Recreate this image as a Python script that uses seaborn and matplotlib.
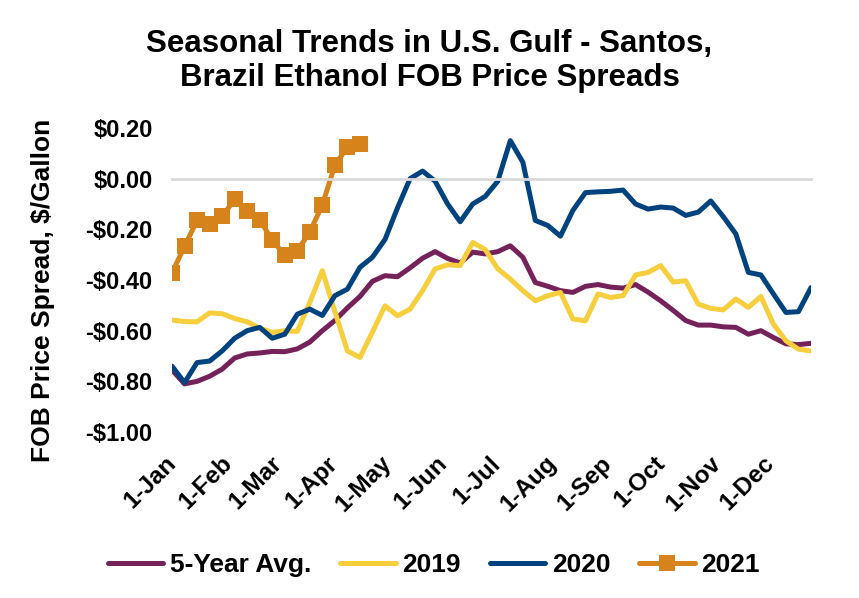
import numpy as np
import pandas as pd
import matplotlib
matplotlib.use("Agg")
import matplotlib.pyplot as plt
import matplotlib.dates as mdates
import matplotlib.transforms as mtransforms
from matplotlib.ticker import FuncFormatter
import seaborn as sns

# ---------------- data ----------------
start_date = "2021-01-01"
n_weeks = 52
series_names = ["5-Year Avg.", "2019", "2020", "2021"]
avg5 = [-0.755, -0.81, -0.80, -0.78, -0.752, -0.708, -0.692, -0.688, -0.682, -0.683,
        -0.672, -0.645, -0.60, -0.56, -0.51, -0.465, -0.405, -0.383, -0.387, -0.352,
        -0.314, -0.288, -0.315, -0.333, -0.29, -0.297, -0.288, -0.265, -0.31, -0.41,
        -0.425, -0.442, -0.449, -0.425, -0.418, -0.428, -0.432, -0.418, -0.448, -0.482,
        -0.52, -0.56, -0.578, -0.578, -0.585, -0.587, -0.614, -0.60, -0.627, -0.652,
        -0.655, -0.65]
y2019 = [-0.558, -0.564, -0.565, -0.53, -0.533, -0.552, -0.565, -0.59, -0.607, -0.60,
         -0.603, -0.488, -0.363, -0.525, -0.68, -0.706, -0.605, -0.502, -0.541, -0.515,
         -0.442, -0.356, -0.34, -0.343, -0.252, -0.28, -0.356, -0.396, -0.442, -0.482,
         -0.462, -0.449, -0.554, -0.561, -0.455, -0.469, -0.462, -0.38, -0.37, -0.343,
         -0.408, -0.403, -0.495, -0.512, -0.518, -0.475, -0.508, -0.465, -0.574, -0.64,
         -0.673, -0.68]
y2020 = [-0.74, -0.805, -0.726, -0.72, -0.68, -0.63, -0.60, -0.587, -0.63, -0.614,
         -0.535, -0.515, -0.54, -0.462, -0.436, -0.35, -0.31, -0.24, -0.115, 0.0,
         0.03, -0.01, -0.10, -0.17, -0.10, -0.07, -0.01, 0.15, 0.065, -0.165,
         -0.185, -0.227, -0.125, -0.055, -0.052, -0.05, -0.045, -0.10, -0.12, -0.112,
         -0.116, -0.145, -0.132, -0.088, -0.15, -0.218, -0.37, -0.38, -0.455, -0.528,
         -0.525, -0.43]
y2021 = [-0.372, -0.267, -0.165, -0.178, -0.149, -0.082, -0.128, -0.162, -0.244, -0.301,
         -0.284, -0.211, -0.103, 0.053, 0.125, 0.135]
month_labels = ["1-Jan", "1-Feb", "1-Mar", "1-Apr", "1-May", "1-Jun",
                "1-Jul", "1-Aug", "1-Sep", "1-Oct", "1-Nov", "1-Dec"]
y_ticks = [0.20, 0.00, -0.20, -0.40, -0.60, -0.80, -1.00]

title = "Seasonal Trends in U.S. Gulf - Santos,\nBrazil Ethanol FOB Price Spreads"
y_label = "FOB Price Spread, $/Gallon"
colors = ["#75215A", "#F7CE3C", "#01427F", "#D5831A"]

dates = pd.date_range(start_date, periods=n_weeks, freq="7D")
month_starts = pd.date_range(start_date, periods=len(month_labels), freq="MS")

frames = []
for name, vals in zip(series_names, [avg5, y2019, y2020, y2021]):
    frames.append(pd.DataFrame({"date": dates[:len(vals)], "value": vals, "series": name}))
df = pd.concat(frames, ignore_index=True)

# ---------------- style ----------------
sns.set_theme(style="white")
plt.rcParams["font.family"] = ["Liberation Sans", "DejaVu Sans"]
plt.rcParams["font.weight"] = "bold"
plt.rcParams["text.color"] = "black"
plt.rcParams["axes.labelcolor"] = "black"
plt.rcParams["xtick.labelcolor"] = "black"
plt.rcParams["ytick.labelcolor"] = "black"

fig = plt.figure(figsize=(8.59, 5.98), dpi=100)
ax = fig.add_axes([172 / 859, 1 - 432 / 598, (811 - 172) / 859, (432 - 128) / 598])

for name, col in zip(series_names, colors):
    sub = df[df["series"] == name]
    kw = dict(marker="s", markersize=12, markeredgewidth=0) if name == "2021" else {}
    sns.lineplot(data=sub, x="date", y="value", ax=ax, color=col, linewidth=3.6,
                 label=name, solid_joinstyle="round", solid_capstyle="round", **kw)

ax.set_ylim(min(y_ticks), max(y_ticks))
ax.set_xlim(dates[0], dates[-1])
ax.set_yticks(y_ticks)
ax.yaxis.set_major_formatter(FuncFormatter(
    lambda v, p: ("-$%.2f" % abs(v)) if v < -1e-9 else ("$%.2f" % abs(v))))
ax.tick_params(axis="y", length=0, pad=14, labelsize=17, labelcolor="black")
for t in ax.get_yticklabels():
    t.set_fontweight("bold")

for s in ["left", "right", "top"]:
    ax.spines[s].set_visible(False)
ax.spines["bottom"].set_position(("data", 0))
ax.spines["bottom"].set_color("#D9D9D9")
ax.spines["bottom"].set_linewidth(2)
ax.set_xticks(month_starts)
ax.tick_params(axis="x", direction="out", length=8, width=2, color="#D9D9D9",
               labelbottom=False)

sec = ax.secondary_xaxis("bottom")
sec.set_xticks(mdates.date2num(month_starts))
sec.set_xticklabels(month_labels)
sec.spines["bottom"].set_visible(False)
sec.tick_params(axis="x", length=0, pad=20, labelsize=17.5, labelcolor="black")
offset = mtransforms.ScaledTranslation(1 / 100, 0, fig.dpi_scale_trans)
for t in sec.get_xticklabels():
    t.set_rotation(45)
    t.set_ha("right")
    t.set_va("center")
    t.set_rotation_mode("anchor")
    t.set_fontweight("bold")
    t.set_color("black")
    t.set_transform(t.get_transform() + offset)

ax.set_xlabel("")
ax.set_ylabel(y_label, fontsize=19, fontweight="bold", color="black")
ax.yaxis.set_label_coords(-0.183, 0.467)

fig.text(0.5, 1 - 29 / 598, title, ha="center", va="top", fontsize=22.5,
         fontweight="bold", linespacing=1.18, color="black")

handles, labels = ax.get_legend_handles_labels()
if ax.legend_:
    ax.legend_.remove()
leg = fig.legend(handles, labels, loc="center", bbox_to_anchor=(0.505, 1 - 565 / 598),
                 ncol=4, frameon=False, handlelength=2.1, handletextpad=0.25,
                 columnspacing=1.1, prop={"weight": "bold", "size": 19})
for t in leg.get_texts():
    t.set_color("black")

fig.savefig("out.png", dpi=100)
